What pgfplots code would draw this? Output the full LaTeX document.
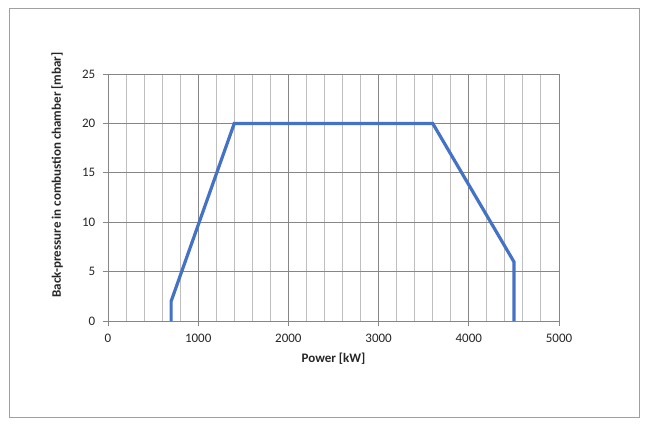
\documentclass[border=0pt]{standalone}
\usepackage{pgfplots}
\pgfplotsset{compat=1.18}
\usepackage{fontspec}
\setmainfont{Carlito}
\definecolor{exblue}{RGB}{68,114,196}
\definecolor{majgrid}{RGB}{134,134,134}
\definecolor{mingrid}{RGB}{190,190,190}
\definecolor{frame}{RGB}{160,160,160}
\begin{document}
\begin{tikzpicture}[x=0.75pt,y=0.75pt]
\fill[white] (0,0) rectangle (646,426);
\useasboundingbox (0,0) rectangle (646,426);
\draw[frame,line width=0.75pt] (9.5,8.5) rectangle (639.5,417.5);
\begin{axis}[
  at={(108*0.75pt,105*0.75pt)}, anchor=south west,
  scale only axis,
  width=338.25pt, height=185.25pt,
  xmin=0, xmax=5000, ymin=0, ymax=25,
  xtick={0,1000,2000,3000,4000,5000},
  ytick={0,5,10,15,20,25},
  xtick pos=bottom, ytick pos=left,
  minor x tick num=4,
  grid=both,
  major grid style={majgrid, line width=0.75pt},
  minor grid style={mingrid, line width=0.75pt},
  axis line style={majgrid, line width=0.75pt},
  tick style={majgrid, line width=0.75pt},
  tick align=outside,
  major tick length=4pt,
  minor tick length=0pt,
  scaled ticks=false,
  /pgf/number format/assume math mode=true,
  /pgf/number format/1000 sep={},
  tick label style={font=\fontsize{9.75}{11}\selectfont, text=black!85},
  xticklabel style={yshift=-2pt},
  yticklabel style={xshift=-2pt},
  xlabel={\textbf{Power [kW]}},
  ylabel={\textbf{Back-pressure in combustion chamber [mbar]}},
  label style={font=\fontsize{9.75}{11}\selectfont, text=black!85},
  xlabel style={at={(axis description cs:0.5,-0.154)}, anchor=center},
  ylabel style={at={(axis description cs:-0.113,0.591)}, anchor=center},
  clip=false,
]
\addplot[exblue, line width=2.4pt, line join=miter] coordinates {
 (700,0) (700,2) (1400,20) (3600,20) (4500,6) (4500,0)
};
\end{axis}
\end{tikzpicture}
\end{document}
